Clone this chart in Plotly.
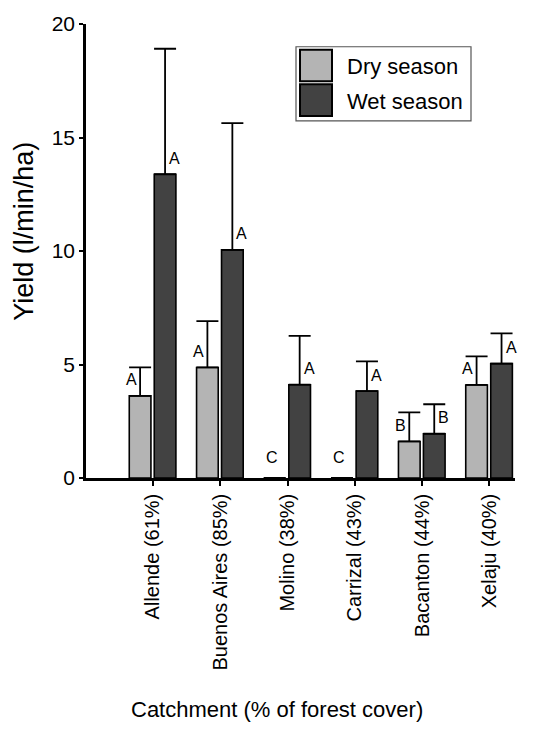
import plotly.graph_objects as go

# Mean water yield per catchment, dry vs wet season (l/min/ha)
catchments = ["Allende (61%)", "Buenos Aires (85%)", "Molino (38%)",
              "Carrizal (43%)", "Bacanton (44%)", "Xelaju (40%)"]
dry_yield = [3.62, 4.87, 0.0, 0.0, 1.61, 4.10]
dry_err = [1.25, 2.04, 0.0, 0.0, 1.28, 1.26]
wet_yield = [13.38, 10.05, 4.11, 3.83, 1.95, 5.04]
wet_err = [5.53, 5.58, 2.15, 1.31, 1.30, 1.33]
dry_group = ["A", "A", "C", "C", "B", "A"]
wet_group = ["A", "A", "A", "A", "B", "A"]
y_ticks = [0, 5, 10, 15, 20]

W, H = 554, 745
ML, MR, MT, MB = 86, 39, 19, 267
PW, PH = W - ML - MR, H - MT - MB

FONT = "Liberation Sans, Arial, Helvetica, sans-serif"
DRY_COLOR = "#b4b4b4"
WET_COLOR = "#424242"

BAR_W = 0.322
DRY_OFF = -0.352
WET_OFF = 0.019

xs = list(range(len(catchments)))


def px_x(p):
    return (p - ML) / PW


def px_y(p):
    return (H - MB - p) / PH


fig = go.Figure()
fig.add_trace(go.Bar(
    x=xs, y=dry_yield, name="Dry season", width=BAR_W, offset=DRY_OFF,
    marker=dict(color=DRY_COLOR, line=dict(color="black", width=1.6)),
    error_y=dict(type="data", array=dry_err, arrayminus=[0] * len(dry_err),
                 symmetric=False, color="black", thickness=1.8, width=11),
    showlegend=False,
))
fig.add_trace(go.Bar(
    x=xs, y=wet_yield, name="Wet season", width=BAR_W, offset=WET_OFF,
    marker=dict(color=WET_COLOR, line=dict(color="black", width=1.6)),
    error_y=dict(type="data", array=wet_err, arrayminus=[0] * len(wet_err),
                 symmetric=False, color="black", thickness=1.8, width=11),
    showlegend=False,
))

annotations = []
# Significance letters next to each error bar
for i, (v, g) in enumerate(zip(dry_yield, dry_group)):
    cx = i + DRY_OFF + BAR_W / 2
    annotations.append(dict(
        x=cx, y=v, xref="x", yref="y", text=g, showarrow=False,
        xshift=-9 if v > 0 else -3, yshift=16 if v > 0 else 21,
        xanchor="center", yanchor="middle",
        font=dict(family=FONT, size=16, color="black")))
for i, (v, g) in enumerate(zip(wet_yield, wet_group)):
    cx = i + WET_OFF + BAR_W / 2
    annotations.append(dict(
        x=cx, y=v, xref="x", yref="y", text=g, showarrow=False,
        xshift=9.5, yshift=16,
        xanchor="center", yanchor="middle",
        font=dict(family=FONT, size=16, color="black")))

# Axis titles
annotations.append(dict(
    x=px_x(24), y=px_y(229), xref="paper", yref="paper",
    text="Yield (l/min/ha)", textangle=-90, showarrow=False,
    xanchor="center", yanchor="middle",
    font=dict(family=FONT, size=27, color="black")))
annotations.append(dict(
    x=px_x(277), y=px_y(712), xref="paper", yref="paper",
    text="Catchment (% of forest cover)", showarrow=False,
    xanchor="center", yanchor="middle",
    font=dict(family=FONT, size=22, color="black")))

# Legend
shapes = [
    dict(type="rect", xref="paper", yref="paper",
         x0=px_x(296), x1=px_x(471), y0=px_y(117), y1=px_y(42),
         line=dict(color="#555555", width=1.2), fillcolor="white"),
    dict(type="rect", xref="paper", yref="paper",
         x0=px_x(300), x1=px_x(332), y0=px_y(77), y1=px_y(45),
         line=dict(color="black", width=2), fillcolor=DRY_COLOR),
    dict(type="rect", xref="paper", yref="paper",
         x0=px_x(300), x1=px_x(332), y0=px_y(112), y1=px_y(80),
         line=dict(color="black", width=2), fillcolor=WET_COLOR),
]
for label, cy in (("Dry season", 62), ("Wet season", 97)):
    annotations.append(dict(
        x=px_x(345), y=px_y(cy), xref="paper", yref="paper",
        text=label, showarrow=False, xanchor="left", yanchor="middle",
        font=dict(family=FONT, size=22, color="black")))

fig.update_layout(
    width=W, height=H,
    margin=dict(l=ML, r=MR, t=MT, b=MB, pad=0),
    paper_bgcolor="white", plot_bgcolor="white",
    barmode="overlay",
    annotations=annotations, shapes=shapes,
    font=dict(family=FONT, color="black"),
)
fig.update_xaxes(
    range=[-0.995, 5.38], tickmode="array", tickvals=xs, ticktext=catchments,
    tickangle=-90, ticks="outside", ticklen=5, tickwidth=2, tickcolor="black",
    showline=True, linecolor="black", linewidth=2.5, showgrid=False,
    zeroline=False, tickfont=dict(family=FONT, size=20, color="black"),
)
fig.update_yaxes(
    range=[0, 20], tickmode="array", tickvals=y_ticks,
    ticks="outside", ticklen=4, tickwidth=2, tickcolor="black",
    showline=True, linecolor="black", linewidth=2.5, showgrid=False,
    zeroline=False, tickfont=dict(family=FONT, size=21, color="black"),
)

fig.write_html("out.html")
